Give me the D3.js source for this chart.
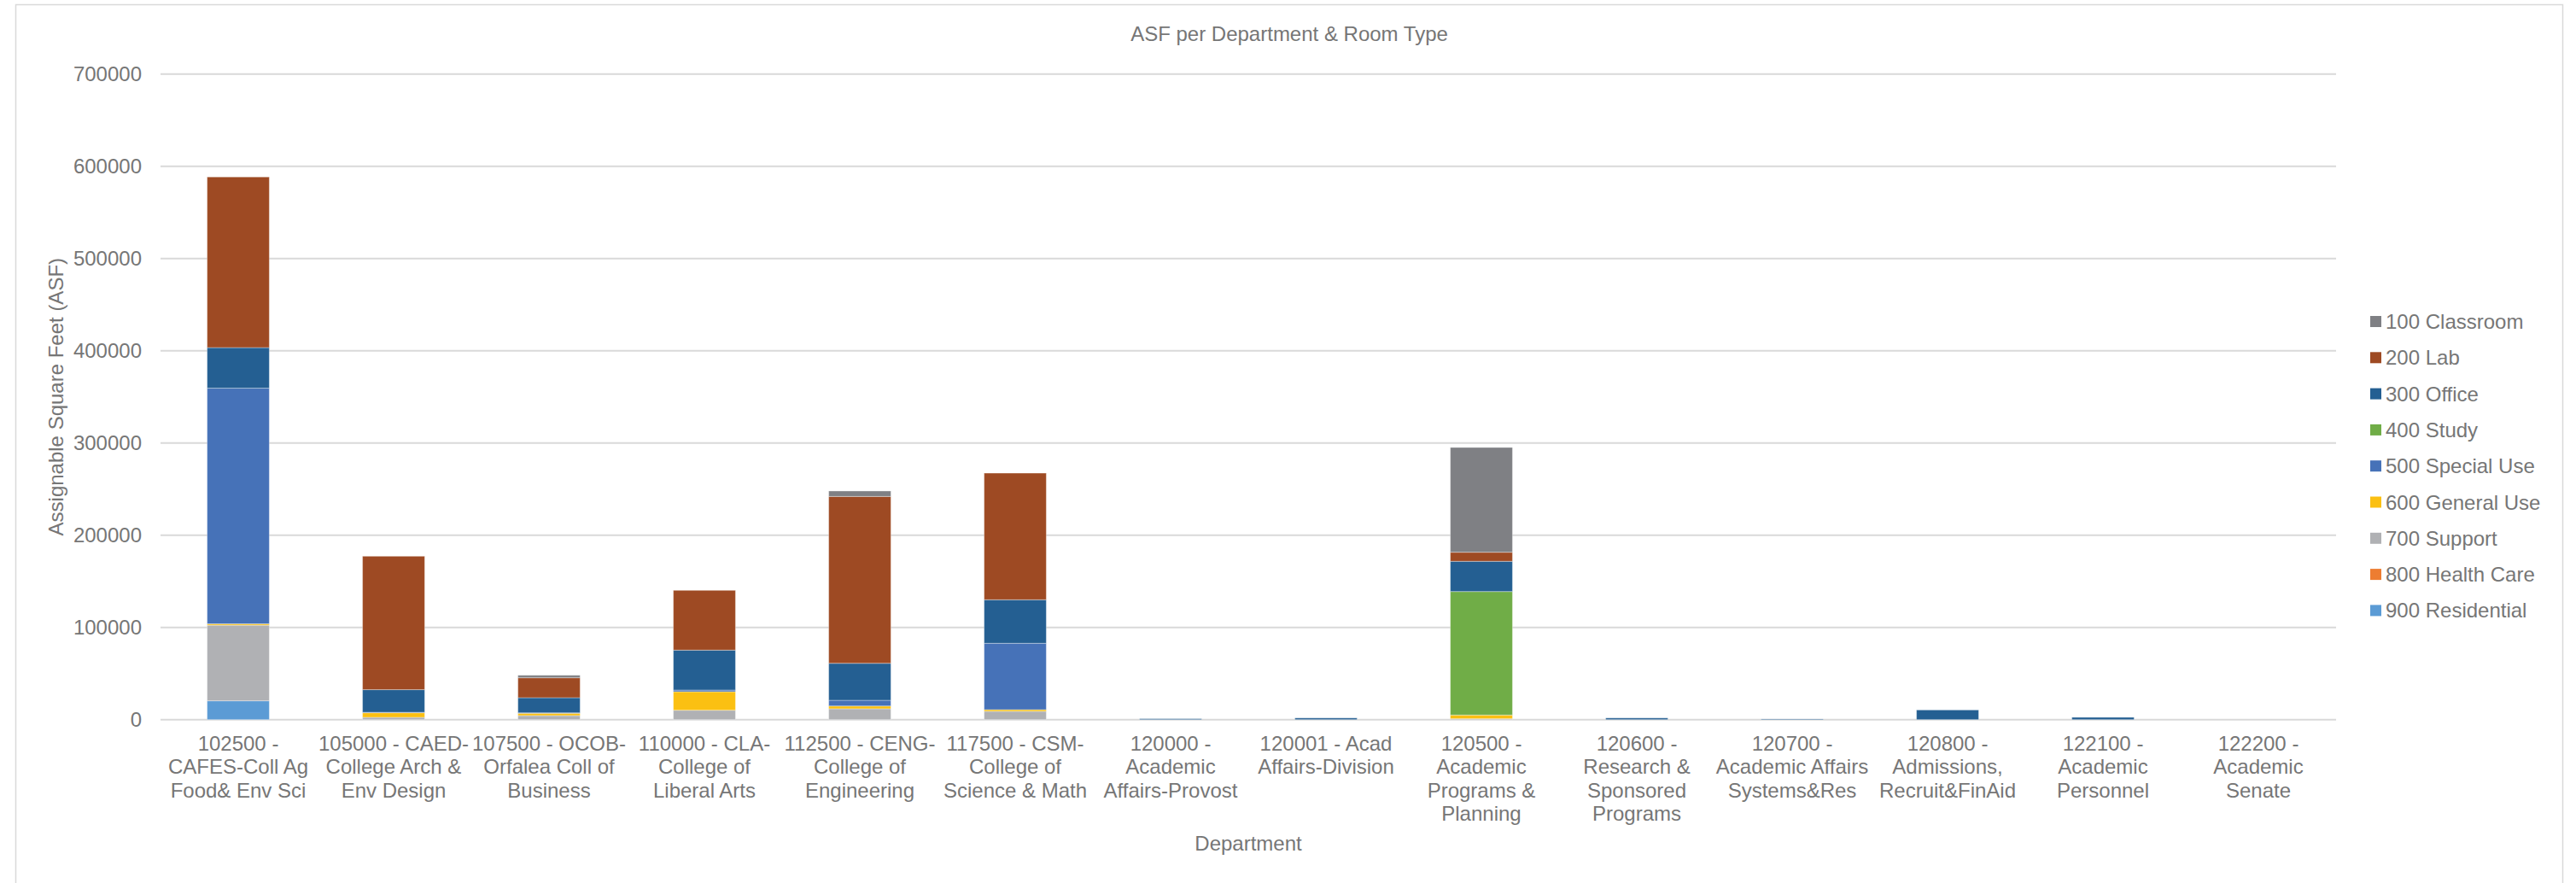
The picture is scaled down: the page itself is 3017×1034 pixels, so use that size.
<!DOCTYPE html>
<html>
<head>
<meta charset="utf-8">
<script src="https://cdn.jsdelivr.net/npm/d3@7"></script>
<style>
  html, body { margin: 0; padding: 0; background: #ffffff; }
  svg { display: block; }
  text { font-family: "Liberation Sans", Arial, sans-serif; fill: #767676; }
</style>
</head>
<body>
<svg id="chart" width="3017" height="1034"></svg>
<script>
// ---- Data ----
const categories = [
  "102500 -\nCAFES-Coll Ag\nFood& Env Sci",
  "105000 - CAED-\nCollege Arch &\nEnv Design",
  "107500 - OCOB-\nOrfalea Coll of\nBusiness",
  "110000 - CLA-\nCollege of\nLiberal Arts",
  "112500 - CENG-\nCollege of\nEngineering",
  "117500 - CSM-\nCollege of\nScience & Math",
  "120000 -\nAcademic\nAffairs-Provost",
  "120001 - Acad\nAffairs-Division",
  "120500 -\nAcademic\nPrograms &\nPlanning",
  "120600 -\nResearch &\nSponsored\nPrograms",
  "120700 -\nAcademic Affairs\nSystems&Res",
  "120800 -\nAdmissions,\nRecruit&FinAid",
  "122100 -\nAcademic\nPersonnel",
  "122200 -\nAcademic\nSenate"
];

const seriesNames = ["100 Classroom","200 Lab","300 Office","400 Study","500 Special Use",
                     "600 General Use","700 Support","800 Health Care","900 Residential"];

const classroom   = [0, 0, 2700, 0, 5900, 0, 0, 0, 113600, 0, 0, 0, 0, 0];
const lab         = [185000, 144700, 21600, 64800, 180900, 137300, 0, 0, 9800, 0, 0, 0, 0, 0];
const office      = [44000, 24500, 16400, 43300, 40100, 47200, 1000, 1800, 32800, 1800, 700, 10500, 2500, 0];
const study       = [0, 0, 0, 0, 0, 0, 0, 0, 133900, 0, 0, 0, 0, 0];
const specialUse  = [255500, 500, 500, 1800, 6200, 72000, 0, 0, 0, 0, 0, 0, 0, 0];
const generalUse  = [1500, 5000, 2500, 20100, 3000, 1800, 0, 0, 4000, 0, 0, 0, 0, 0];
const support     = [82000, 2500, 4400, 10200, 11800, 9000, 0, 0, 1000, 0, 0, 0, 0, 0];
const healthCare  = [0, 0, 0, 0, 0, 0, 0, 0, 0, 0, 0, 0, 0, 0];
const residential = [20400, 0, 0, 0, 0, 0, 0, 0, 0, 0, 0, 0, 0, 0];

const yTicks = [0, 100000, 200000, 300000, 400000, 500000, 600000, 700000];

const seriesColors = ["#7F8084","#9E4A23","#245F92","#70AD47","#4672B8",
                      "#FBC012","#B0B1B4","#ED7D31","#5B9BD5"];

// ---- Build table ----
const seriesValues = [classroom, lab, office, study, specialUse, generalUse, support, healthCare, residential];
const table = categories.map((c, i) => {
  const row = { cat: c };
  seriesNames.forEach((s, j) => { row[s] = seriesValues[j][i]; });
  return row;
});
const colorOf = d3.scaleOrdinal().domain(seriesNames).range(seriesColors);

// ---- Layout ----
const svg = d3.select("#chart");
const W = 3017, H = 1034;
const plot = { left: 188, right: 2736, top: 86.7, bottom: 842.7 };

// chart border
svg.append("rect")
  .attr("x", 18.5).attr("y", 5.5)
  .attr("width", 3001.5 - 18.5).attr("height", 1060)
  .attr("fill", "#ffffff").attr("stroke", "#d9d9d9").attr("stroke-width", 1.5);

const x = d3.scaleBand().domain(categories).range([plot.left, plot.right])
  .paddingInner(0.6).paddingOuter(0.3);
const y = d3.scaleLinear().domain([0, 700000]).range([plot.bottom, plot.top]);

// gridlines
svg.append("g").selectAll("line").data(yTicks).join("line")
  .attr("x1", plot.left).attr("x2", plot.right)
  .attr("y1", d => y(d)).attr("y2", d => y(d))
  .attr("stroke", "#d9d9d9").attr("stroke-width", 2);

// y axis labels
const yAxis = d3.axisLeft(y).tickValues(yTicks).tickFormat(d3.format("d")).tickSize(0).tickPadding(22);
const gy = svg.append("g").attr("transform", `translate(${plot.left},0)`).call(yAxis);
gy.select(".domain").remove();
gy.selectAll("text").attr("font-size", 24).attr("fill", "#767676")
  .style("font-family", "'Liberation Sans', Arial, sans-serif");

// stacked bars (900 at bottom ... 100 on top)
const stackKeys = seriesNames.slice().reverse();
const stacked = d3.stack().keys(stackKeys)(table);

svg.append("g").selectAll("g").data(stacked).join("g")
  .attr("fill", d => colorOf(d.key))
  .selectAll("rect").data(d => d.filter(p => p[1] - p[0] > 0)).join("rect")
  .attr("x", d => x(d.data.cat))
  .attr("width", x.bandwidth())
  .attr("y", d => y(d[1]))
  .attr("height", d => y(d[0]) - y(d[1]))
  .attr("stroke", "#ffffff").attr("stroke-opacity", 0.35).attr("stroke-width", 1);

// x axis labels
const xl = svg.append("g");
categories.forEach(c => {
  const t = xl.append("text")
    .attr("x", x(c) + x.bandwidth() / 2)
    .attr("y", 879)
    .attr("text-anchor", "middle")
    .attr("font-size", 24);
  c.split("\n").forEach((line, k) => {
    t.append("tspan").attr("x", x(c) + x.bandwidth() / 2)
      .attr("dy", k === 0 ? 0 : 27.3).text(line);
  });
});

// title
svg.append("text").attr("x", 1510).attr("y", 48).attr("text-anchor", "middle")
  .attr("font-size", 24).text("ASF per Department & Room Type");

// axis titles
svg.append("text").attr("x", (plot.left + plot.right) / 2).attr("y", 996)
  .attr("text-anchor", "middle").attr("font-size", 24).text("Department");
svg.append("text").attr("transform", `translate(74,${(plot.top + plot.bottom) / 2}) rotate(-90)`)
  .attr("text-anchor", "middle").attr("font-size", 24).text("Assignable Square Feet (ASF)");

// legend
const lg = svg.append("g");
seriesNames.forEach((s, i) => {
  const cy = 376.5 + i * 42.3;
  lg.append("rect").attr("x", 2776).attr("y", cy - 6.5).attr("width", 13).attr("height", 13)
    .attr("fill", colorOf(s));
  lg.append("text").attr("x", 2794).attr("y", cy + 8.5).attr("font-size", 24).text(s);
});
</script>
</body>
</html>
